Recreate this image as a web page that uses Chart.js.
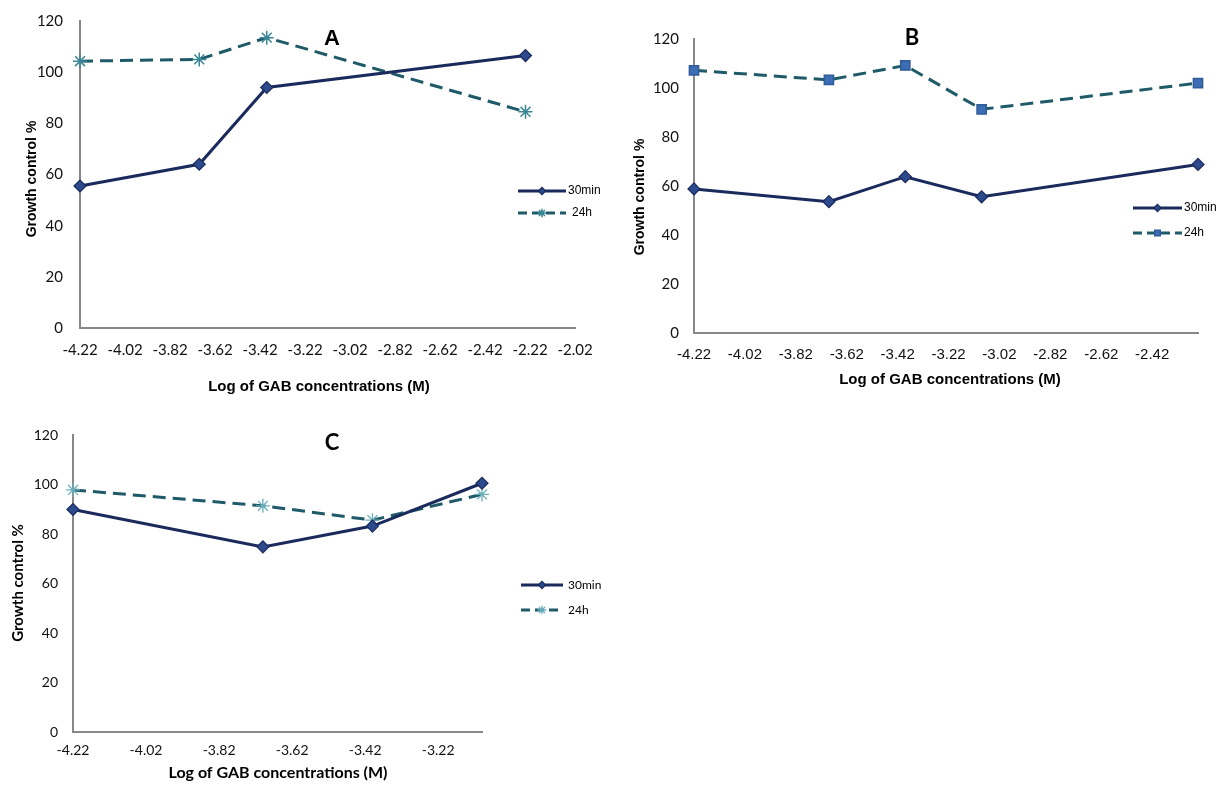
<!DOCTYPE html>
<html><head><meta charset="utf-8">
<script src="https://cdn.jsdelivr.net/npm/chart.js@4.4.1/dist/chart.umd.min.js"></script>
<style>
html,body{margin:0;padding:0;background:#fff;}
body{width:1227px;height:787px;position:relative;overflow:hidden;}
canvas{position:absolute;left:0;top:0;}
</style></head><body>
<canvas id="cA" width="1227" height="787"></canvas>
<canvas id="cB" width="1227" height="787"></canvas>
<canvas id="cC" width="1227" height="787"></canvas>
<script>
// ---------- data ----------
const seriesLabels = ['30min', '24h'];
const yTickValues = [0, 20, 40, 60, 80, 100, 120];
const yAxisTitle = 'Growth control %';
const xAxisTitle = 'Log of GAB concentrations (M)';

const xA = [-4.22, -3.69, -3.39, -2.24];
const a30min = [55.5, 64, 94, 106.5];
const a24h = [104.3, 105, 113.5, 84.5];
const xTicksA = [-4.22, -4.02, -3.82, -3.62, -3.42, -3.22, -3.02, -2.82, -2.62, -2.42, -2.22, -2.02];

const xB = [-4.22, -3.69, -3.39, -3.09, -2.24];
const b30min = [58.8, 53.6, 63.8, 55.6, 68.8];
const b24h = [107.2, 103.3, 109.2, 91.3, 102];
const xTicksB = [-4.22, -4.02, -3.82, -3.62, -3.42, -3.22, -3.02, -2.82, -2.62, -2.42];

const xC = [-4.22, -3.70, -3.40, -3.10];
const c30min = [89.9, 74.8, 83.2, 100.5];
const c24h = [97.8, 91.4, 85.6, 96];
const xTicksC = [-4.22, -4.02, -3.82, -3.62, -3.42, -3.22];

// ---------- styles ----------
const NAVY = '#1b2a5c';
const DIAMOND = '#2c4a8c';
const TEAL = '#1e5a68';
const AXIS = '#878787';
const ARIAL = '"Liberation Sans", Arial, sans-serif';
const CAL = 'Lato, "Open Sans", sans-serif';

function pts(xs, ys) { return xs.map((x, i) => ({ x: x, y: ys[i] })); }

function makePanel(id, p) {
  const s30 = { pointStyle: 'rectRot', radius: 6, borderWidth: 1.2, backgroundColor: DIAMOND, borderColor: NAVY };
  const s24 = p.marker24;
  const panelPlugin = {
    id: 'panel' + id,
    afterDraw(chart) {
      const ctx = chart.ctx;
      ctx.save();
      ctx.fillStyle = '#000';
      ctx.font = 'bold ' + p.letterSize + 'px ' + p.letterFont;
      ctx.textAlign = 'center'; ctx.textBaseline = 'middle';
      ctx.fillText(p.letter, p.letterX, p.letterY);
      ctx.font = 'bold ' + p.xTitleSize + 'px ' + p.xTitleFont;
      ctx.fillText(xAxisTitle, p.xTitleX, p.xTitleY);
      ctx.save();
      ctx.translate(p.yTitleX, p.yTitleY);
      ctx.rotate(-Math.PI / 2);
      ctx.font = 'bold ' + p.yTitleSize + 'px ' + p.yTitleFont;
      ctx.fillText(yAxisTitle, 0, 0);
      ctx.restore();
      const L = p.legend;
      const styles = [s30, s24];
      const dashes = [[], [9, 5]];
      const colors = [NAVY, TEAL];
      ctx.font = L.size + 'px ' + L.font;
      ctx.textAlign = 'left'; ctx.textBaseline = 'middle';
      for (let i = 0; i < 2; i++) {
        const y = L.y[i];
        ctx.save();
        ctx.strokeStyle = colors[i];
        ctx.lineWidth = 3;
        ctx.setLineDash(dashes[i]);
        ctx.beginPath(); ctx.moveTo(L.x0, y); ctx.lineTo(L.x1, y); ctx.stroke();
        ctx.restore();
        const st = styles[i];
        ctx.save();
        ctx.fillStyle = st.backgroundColor; ctx.strokeStyle = st.borderColor; ctx.lineWidth = st.borderWidth;
        Chart.helpers.drawPoint(ctx, { pointStyle: st.pointStyle, radius: st.radius * 0.6, rotation: 0, borderWidth: st.borderWidth }, (L.x0 + L.x1) / 2, y);
        ctx.restore();
        ctx.fillStyle = '#000';
        ctx.fillText(seriesLabels[i], L.tx[i], y);
      }
      ctx.restore();
    }
  };
  const area = p.area;
  new Chart(document.getElementById(id), {
    type: 'line',
    data: {
      datasets: [
        { label: seriesLabels[0], data: pts(p.xs, p.y30), borderColor: NAVY, borderWidth: 3,
          pointStyle: s30.pointStyle, pointRadius: s30.radius, pointBackgroundColor: s30.backgroundColor,
          pointBorderColor: s30.borderColor, pointBorderWidth: s30.borderWidth, tension: 0, clip: false, fill: false },
        { label: seriesLabels[1], data: pts(p.xs, p.y24), borderColor: TEAL, borderWidth: 3, borderDash: [13, 7],
          pointStyle: s24.pointStyle, pointRadius: s24.radius, pointBackgroundColor: s24.backgroundColor,
          pointBorderColor: s24.borderColor, pointBorderWidth: s24.borderWidth, tension: 0, clip: false, fill: false }
      ]
    },
    options: {
      responsive: false, animation: false, devicePixelRatio: 1,
      layout: { padding: { left: area.left - p.yW, top: area.top, right: 1227 - area.right, bottom: 787 - area.bottom - 40 } },
      plugins: { legend: { display: false }, tooltip: { enabled: false }, title: { display: false } },
      scales: {
        x: {
          type: 'linear', min: p.xTicks[0], max: p.xMax,
          afterBuildTicks: s => { s.ticks = p.xTicks.map(v => ({ value: v })); },
          afterFit: s => { s.height = 40; s.paddingLeft = 0; s.paddingRight = 0; },
          grid: { display: false, drawTicks: false },
          border: { display: true, color: AXIS, width: 2 },
          ticks: { padding: p.xTickPad, maxRotation: 0, autoSkip: false, color: '#111',
            font: { family: p.xTickFont, size: p.xTickSize }, callback: v => v.toFixed(2) }
        },
        y: {
          type: 'linear', min: 0, max: 120,
          afterBuildTicks: s => { s.ticks = yTickValues.map(v => ({ value: v })); },
          afterFit: s => { s.width = p.yW; s.paddingTop = 0; s.paddingBottom = 0; },
          grid: { display: false, drawTicks: false },
          border: { display: true, color: AXIS, width: 2 },
          ticks: { padding: p.yTickPad, color: '#111', font: { family: p.yTickFont, size: p.yTickSize } }
        }
      }
    },
    plugins: [panelPlugin]
  });
}

makePanel('cA', {
  xs: xA, y30: a30min, y24: a24h, xTicks: xTicksA, xMax: -2.02,
  area: { left: 80, right: 575, top: 21, bottom: 328 }, yW: 80,
  marker24: { pointStyle: 'star', radius: 7, borderWidth: 1.5, backgroundColor: '#2d7384', borderColor: '#3a8797' },
  xTickFont: CAL, xTickSize: 15, xTickPad: 13, yTickFont: CAL, yTickSize: 15, yTickPad: 17,
  letter: 'A', letterX: 332, letterY: 39, letterSize: 22, letterFont: ARIAL,
  xTitleX: 319, xTitleY: 387, xTitleSize: 15, xTitleFont: ARIAL,
  yTitleX: 32, yTitleY: 179, yTitleSize: 14, yTitleFont: ARIAL,
  legend: { x0: 518, x1: 566, y: [191, 213], tx: [568, 572], size: 12, font: ARIAL }
});

makePanel('cB', {
  xs: xB, y30: b30min, y24: b24h, xTicks: xTicksB, xMax: -2.24,
  area: { left: 694, right: 1198, top: 39, bottom: 333 }, yW: 60,
  marker24: { pointStyle: 'rect', radius: 6.5, borderWidth: 1.5, backgroundColor: '#3d6db4', borderColor: '#2f5b99' },
  xTickFont: ARIAL, xTickSize: 15, xTickPad: 13, yTickFont: CAL, yTickSize: 15, yTickPad: 15,
  letter: 'B', letterX: 912, letterY: 38, letterSize: 22, letterFont: CAL,
  xTitleX: 950, xTitleY: 380, xTitleSize: 15, xTitleFont: ARIAL,
  yTitleX: 640, yTitleY: 197, yTitleSize: 14, yTitleFont: ARIAL,
  legend: { x0: 1133, x1: 1182, y: [208, 233], tx: [1184, 1184], size: 12, font: ARIAL }
});

makePanel('cC', {
  xs: xC, y30: c30min, y24: c24h, xTicks: xTicksC, xMax: -3.10,
  area: { left: 73, right: 482, top: 435, bottom: 732 }, yW: 73,
  marker24: { pointStyle: 'star', radius: 7, borderWidth: 1.3, backgroundColor: '#6aaebc', borderColor: '#6aaebc' },
  xTickFont: CAL, xTickSize: 14, xTickPad: 10, yTickFont: CAL, yTickSize: 14, yTickPad: 15,
  letter: 'C', letterX: 332, letterY: 443, letterSize: 22, letterFont: CAL,
  xTitleX: 278, xTitleY: 773, xTitleSize: 16, xTitleFont: CAL,
  yTitleX: 18, yTitleY: 583, yTitleSize: 15, yTitleFont: CAL,
  legend: { x0: 521, x1: 563, y: [585, 610], tx: [568, 568], size: 12, font: CAL }
});
</script>
</body></html>
